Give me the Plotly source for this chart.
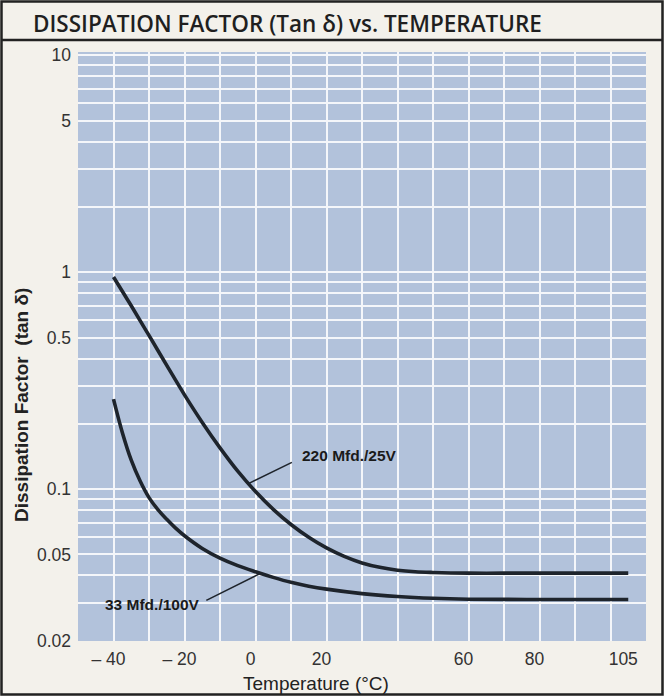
import numpy as np
import plotly.graph_objects as go

# ---- data ----
temp_220 = [-40, -35, -30, -25, -20, -15, -10, -5, 0, 5, 10, 15, 20, 25, 30, 35, 40, 45, 50, 60, 70, 80, 90, 105]
df_220 = [0.951, 0.700, 0.511, 0.372, 0.272, 0.203, 0.155, 0.121, 0.0975, 0.0807, 0.0687, 0.0600, 0.0536,
          0.0490, 0.0457, 0.0436, 0.0423, 0.0416, 0.0413, 0.0410, 0.0410, 0.0410, 0.0410, 0.0410]

temp_33 = [-40, -37.5, -35, -32.5, -30, -27.5, -25, -22.5, -20, -15, -10, -5, 0, 5, 10, 15, 20, 30, 40,
           50, 60, 80, 105]
df_33 = [0.260, 0.182, 0.136, 0.109, 0.0914, 0.0805, 0.0726, 0.0661, 0.0610, 0.0533, 0.0481, 0.0444,
         0.0416, 0.0392, 0.0372, 0.0357, 0.0346, 0.0330, 0.0320, 0.0314, 0.0311, 0.0310, 0.0310]

x_tick_vals = [-40, -20, 0, 20, 60, 80, 105]
x_tick_text = ["\u2013 40", "\u2013 20", "0", "20", "60", "80", "105"]
y_tick_vals = [0.02, 0.05, 0.1, 0.5, 1, 5, 10]
y_tick_text = ["0.02", "0.05", "0.1", "0.5", "1", "5", "10"]

x_grid = list(range(-40, 101, 10))
y_grid = [m * 10.0 ** e for e in (-2, -1, 0) for m in range(1, 10)] + [10]
y_grid = [v for v in y_grid if v >= 0.02]

LINE = "#1e242c"
BLUE = "#b2c2db"
PAGE = "#f3f1eb"
TXT = "#2b2b2b"

fig = go.Figure()
fig.add_trace(go.Scatter(x=temp_220, y=df_220, mode="lines",
                         line=dict(color=LINE, width=3.6, shape="spline", smoothing=1.0),
                         hoverinfo="skip", showlegend=False, name="220 Mfd./25V"))
fig.add_trace(go.Scatter(x=temp_33, y=df_33, mode="lines",
                         line=dict(color=LINE, width=3.6, shape="spline", smoothing=1.0),
                         hoverinfo="skip", showlegend=False, name="33 Mfd./100V"))

# plot area in pixels
L, R, T, B = 78, 646, 52, 641
W, H = 664, 696
pw, ph = R - L, B - T


def px(x):
    return (x - L) / pw


def py(y):
    return (B - y) / ph


fig.update_layout(
    width=W, height=H,
    margin=dict(l=L, r=W - R, t=T, b=H - B, pad=0),
    paper_bgcolor=PAGE, plot_bgcolor=BLUE,
    font=dict(family="Liberation Sans, Arial, sans-serif", color=TXT),
    title=dict(text="DISSIPATION FACTOR (Tan \u03b4) vs. TEMPERATURE",
               x=33 / W, xanchor="left", xref="container",
               y=1 - 24 / H, yanchor="middle", yref="container",
               font=dict(family="Open Sans, Noto Sans, sans-serif", size=22.5, color="#1f1f1f", weight=600)),
    xaxis=dict(range=[-50, 110], showgrid=False, zeroline=False, showline=False,
               tickmode="array", tickvals=x_tick_vals, ticktext=x_tick_text,
               ticks="", ticklabelshift=-5, ticklabelstandoff=5,
               tickfont=dict(size=17.5, color="#333333"),
               minor=dict(tickmode="array", tickvals=x_grid, showgrid=True,
                          gridcolor="#f4f6fa", gridwidth=1.6, ticks="")),
    yaxis=dict(type="log", range=[-1.70, 1.015], showgrid=False, zeroline=False, showline=False,
               tickmode="array", tickvals=y_tick_vals, ticktext=y_tick_text,
               ticks="", ticklabelstandoff=6,
               tickfont=dict(size=17.5, color="#333333"),
               minor=dict(tickmode="array", tickvals=y_grid, showgrid=True,
                          gridcolor="#f4f6fa", gridwidth=1.6, ticks="")),
)

# axis titles
fig.add_annotation(text="Temperature (\u00b0C)", xref="paper", yref="paper",
                   x=px(316), y=py(683), xanchor="center", yanchor="middle", showarrow=False,
                   font=dict(size=19, color="#222222"))
fig.add_annotation(text="Dissipation Factor  (tan \u03b4)", xref="paper", yref="paper",
                   x=px(21), y=py(405), xanchor="center", yanchor="middle", showarrow=False,
                   textangle=-90, font=dict(size=19, color="#222222", weight="bold"))

# curve labels with leader lines
fig.add_annotation(text="<b>220 Mfd./25V</b>", x=12.5, y=np.log10(0.143), xanchor="left",
                   showarrow=False, font=dict(size=15.5, color="#1a1a1a"))
fig.add_annotation(text="", x=-2, y=np.log10(0.106), ax=45, ay=-22, showarrow=True,
                   arrowhead=0, arrowwidth=1.6, arrowcolor=LINE)
fig.add_annotation(text="<b>33 Mfd./100V</b>", x=-15.2, y=np.log10(0.0295), xanchor="right",
                   showarrow=False, font=dict(size=15.5, color="#1a1a1a"))
fig.add_annotation(text="", x=1.5, y=np.log10(0.041), ax=-56, ay=28, showarrow=True,
                   arrowhead=0, arrowwidth=1.6, arrowcolor=LINE)

# outer frame and title separator
fig.add_shape(type="rect", xref="paper", yref="paper", x0=px(1.5), x1=px(662.5), y0=py(694.5), y1=py(1.5),
              line=dict(color="#222222", width=2.5), fillcolor="rgba(0,0,0,0)", layer="above")
fig.add_shape(type="line", xref="paper", yref="paper", x0=px(1.5), x1=px(662.5), y0=py(40), y1=py(40),
              line=dict(color="#222222", width=2.5))

fig.write_html("out.html", config={"displayModeBar": False},
               post_script="document.body.style.margin='0';document.body.style.padding='0';"
                           "document.body.style.overflow='hidden';")
